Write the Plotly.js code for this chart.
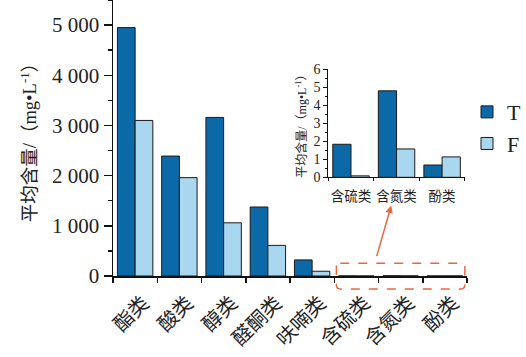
<!DOCTYPE html>
<html>
<head>
<meta charset="utf-8">
<script src="https://cdn.plot.ly/plotly-3.0.1.min.js"></script>
<style>html,body{margin:0;padding:0;background:#fff}#chart{width:526px;height:357px}</style>
</head>
<body>
<div id="chart"></div>
<script>
// ---- data ----
const categories = ['酯类', '酸类', '醇类', '醛酮类', '呋喃类', '含硫类', '含氮类', '酚类'];
const seriesT = [4950, 2390, 3160, 1375, 320, 1.83, 4.79, 0.68];
const seriesF = [3100, 1960, 1060, 610, 95, 0.08, 1.57, 1.13];
const insetCategories = ['含硫类', '含氮类', '酚类'];
const insetT = [1.83, 4.79, 0.68];
const insetF = [0.08, 1.57, 1.13];
const seriesNames = ['T', 'F'];
const yTitle = '平均含量/（mg•L<sup>-1</sup>）';

const colT = '#0b69a8';
const colF = '#a9d7f0';
const edge = {color: '#1a1a1a', width: 1};
const fam = '"Liberation Serif", "Noto Sans CJK SC", serif';

const traces = [
  {type: 'bar', name: seriesNames[0], x: categories, y: seriesT, marker: {color: colT, line: edge}, xaxis: 'x', yaxis: 'y'},
  {type: 'bar', name: seriesNames[1], x: categories, y: seriesF, marker: {color: colF, line: edge}, xaxis: 'x', yaxis: 'y'},
  {type: 'bar', name: seriesNames[0], x: insetCategories, y: insetT, marker: {color: colT, line: edge}, xaxis: 'x2', yaxis: 'y2', showlegend: false},
  {type: 'bar', name: seriesNames[1], x: insetCategories, y: insetF, marker: {color: colF, line: edge}, xaxis: 'x2', yaxis: 'y2', showlegend: false}
];

const red = '#e8683f';
const pad = '\u00a0\u00a0\u00a0\u00a0\u00a0\u00a0';
const layout = {
  width: 526, height: 357,
  margin: {l: 113, r: 58, t: 0, b: 81},
  paper_bgcolor: '#fff', plot_bgcolor: '#fff',
  separators: '. ',
  barmode: 'group', bargap: 0.2, bargroupgap: 0,
  font: {family: fam, color: '#222'},
  showlegend: true,
  legend: {x: 1.0, xanchor: 'left', y: 0.67, yanchor: 'top', font: {size: 22, family: fam}, bgcolor: 'rgba(0,0,0,0)', tracegroupgap: 2},
  xaxis: {
    type: 'category', domain: [0, 1], anchor: 'y',
    showline: true, linecolor: '#111', linewidth: 1.5, mirror: false,
    ticks: 'outside', tickson: 'boundaries', ticklen: 5, tickcolor: '#111', tickwidth: 1.5,
    tickangle: -45, tickfont: {size: 20, family: fam},
    ticklabelshift: 8, ticklabelstandoff: 6,
    showgrid: false, zeroline: false, fixedrange: true
  },
  xaxis3: {
    overlaying: 'x', anchor: 'y', range: [-0.5, 7.5],
    tickmode: 'linear', tick0: 0, dtick: 1,
    ticks: 'outside', ticklen: 8, tickcolor: '#111', tickwidth: 1.5,
    showticklabels: false, showline: false, showgrid: false, zeroline: false
  },
  yaxis: {
    domain: [0, 1], anchor: 'x', range: [0, 5500],
    tickmode: 'linear', tick0: 0, dtick: 1000, tickformat: ',d',
    ticks: 'outside', ticklen: 8, tickcolor: '#111', tickwidth: 1.5,
    minor: {dtick: 500, ticks: 'outside', ticklen: 4, tickcolor: '#111', tickwidth: 1.5},
    tickfont: {size: 21, family: fam},
    showline: true, linecolor: '#111', linewidth: 1.5,
    showgrid: false, zeroline: false,
    title: {text: yTitle + pad, font: {size: 18.5, family: fam}, standoff: 10}
  },
  xaxis2: {
    type: 'category', domain: [0.608, 0.994], anchor: 'y2',
    showline: true, linecolor: '#111', linewidth: 1,
    ticks: 'outside', tickson: 'boundaries', ticklen: 3, tickcolor: '#111',
    tickangle: 0, tickfont: {size: 13.5, family: fam}, ticklabelstandoff: 6,
    showgrid: false, zeroline: false
  },
  yaxis2: {
    domain: [0.3576, 0.75], anchor: 'x2', range: [0, 6],
    tickmode: 'linear', tick0: 0, dtick: 1,
    ticks: 'outside', ticklen: 4, tickcolor: '#111',
    minor: {dtick: 0.5, ticks: 'outside', ticklen: 2, tickcolor: '#111'},
    tickfont: {size: 14, family: fam},
    showline: true, linecolor: '#111', linewidth: 1,
    showgrid: false, zeroline: false,
    title: {text: yTitle, font: {size: 12, family: fam}, standoff: 4}
  },
  shapes: [
    {type: 'path', xref: 'paper', yref: 'paper',
     path: 'M0.642,0.046 L0.983,0.046 Q0.994,0.046 0.994,0.031 L0.994,-0.032 Q0.994,-0.047 0.983,-0.047 L0.642,-0.047 Q0.631,-0.047 0.631,-0.032 L0.631,0.031 Q0.631,0.046 0.642,0.046 Z',
     line: {color: red, width: 1.5, dash: 'dash'}, fillcolor: 'rgba(0,0,0,0)'}
  ],
  annotations: [
    {xref: 'paper', yref: 'paper', x: 0.786, y: 0.255, text: '', showarrow: true,
     axref: 'pixel', ayref: 'pixel', ax: -15, ay: 52,
     arrowhead: 2, arrowsize: 1, arrowwidth: 1.5, arrowcolor: red}
  ]
};

Plotly.newPlot('chart', traces, layout, {displayModeBar: false, staticPlot: true});
</script>
</body>
</html>
